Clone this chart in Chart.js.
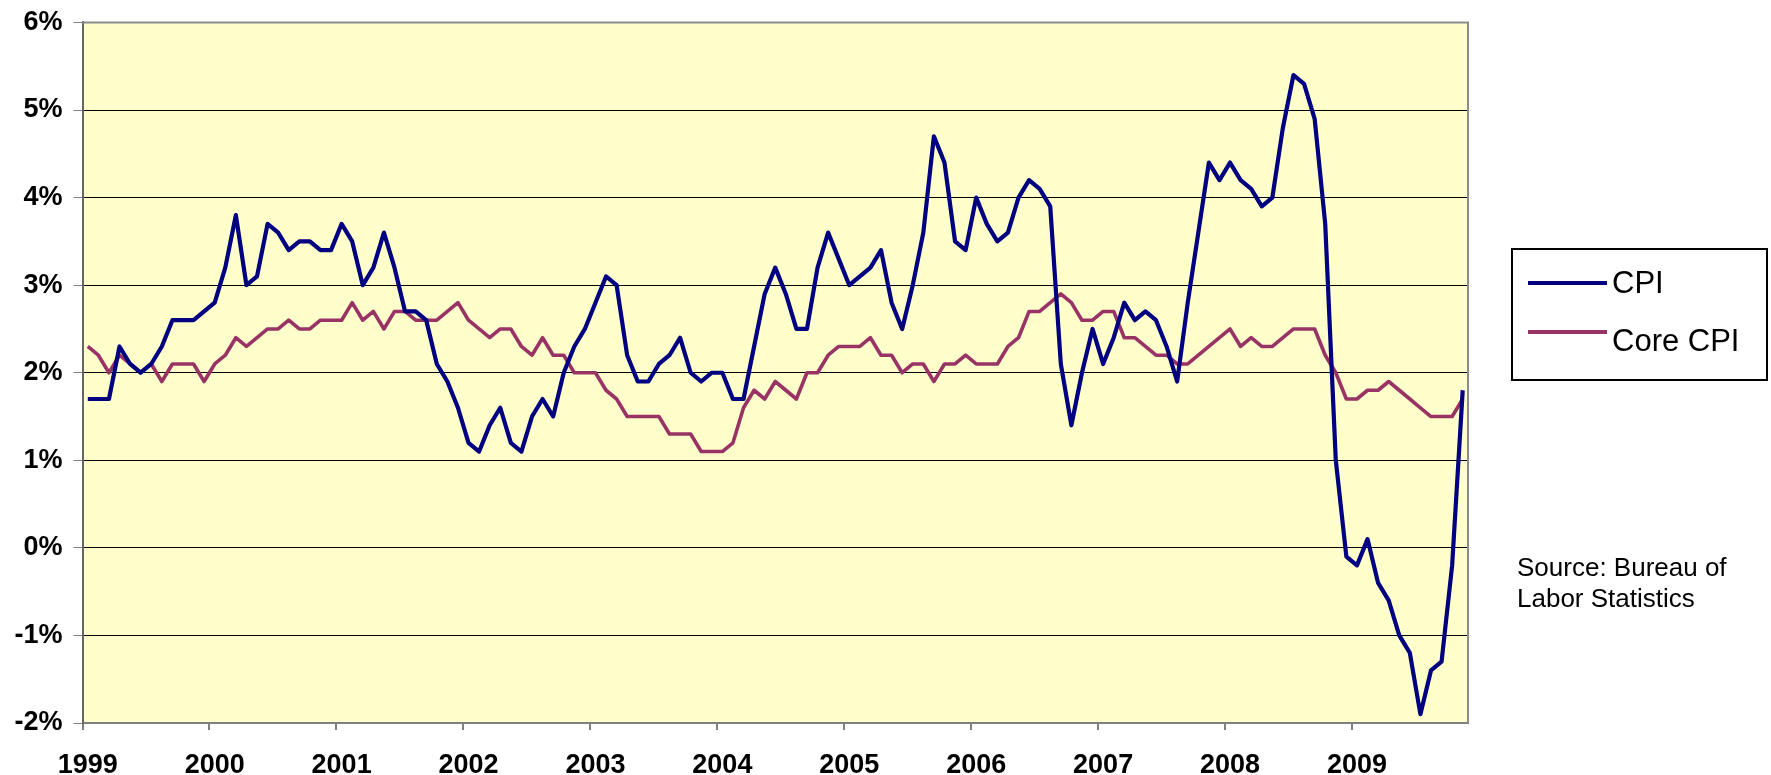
<!DOCTYPE html>
<html lang="en">

<head>
    <meta charset="UTF-8">
    <title>CPI vs Core CPI</title>
    <script src="https://cdn.jsdelivr.net/npm/chart.js"></script>
    <style>
        body { margin: 0; background: #fff; }
        #wrap { width: 1771px; height: 775px; }
    </style>
</head>

<body>
    <div id="wrap"><canvas id="cpiChart" width="1771" height="775"></canvas></div>
    <script>
        // year-over-year change, monthly, Jan 1999 - Nov 2009
        const years = ['1999', '2000', '2001', '2002', '2003', '2004', '2005', '2006', '2007', '2008', '2009'];
        const cpi = [
            1.7, 1.7, 1.7, 2.3, 2.1, 2.0, 2.1, 2.3, 2.6, 2.6, 2.6, 2.7,
            2.8, 3.2, 3.8, 3.0, 3.1, 3.7, 3.6, 3.4, 3.5, 3.5, 3.4, 3.4,
            3.7, 3.5, 3.0, 3.2, 3.6, 3.2, 2.7, 2.7, 2.6, 2.1, 1.9, 1.6,
            1.2, 1.1, 1.4, 1.6, 1.2, 1.1, 1.5, 1.7, 1.5, 2.0, 2.3, 2.5,
            2.8, 3.1, 3.0, 2.2, 1.9, 1.9, 2.1, 2.2, 2.4, 2.0, 1.9, 2.0,
            2.0, 1.7, 1.7, 2.3, 2.9, 3.2, 2.9, 2.5, 2.5, 3.2, 3.6, 3.3,
            3.0, 3.1, 3.2, 3.4, 2.8, 2.5, 3.0, 3.6, 4.7, 4.4, 3.5, 3.4,
            4.0, 3.7, 3.5, 3.6, 4.0, 4.2, 4.1, 3.9, 2.1, 1.4, 2.0, 2.5,
            2.1, 2.4, 2.8, 2.6, 2.7, 2.6, 2.3, 1.9, 2.8, 3.6, 4.4, 4.2,
            4.4, 4.2, 4.1, 3.9, 4.0, 4.8, 5.4, 5.3, 4.9, 3.7, 1.0, -0.1,
            -0.2, 0.1, -0.4, -0.6, -1.0, -1.2, -1.9, -1.4, -1.3, -0.2, 1.8
        ];
        const coreCpi = [
            2.3, 2.2, 2.0, 2.2, 2.1, 2.0, 2.1, 1.9, 2.1, 2.1, 2.1, 1.9,
            2.1, 2.2, 2.4, 2.3, 2.4, 2.5, 2.5, 2.6, 2.5, 2.5, 2.6, 2.6,
            2.6, 2.8, 2.6, 2.7, 2.5, 2.7, 2.7, 2.6, 2.6, 2.6, 2.7, 2.8,
            2.6, 2.5, 2.4, 2.5, 2.5, 2.3, 2.2, 2.4, 2.2, 2.2, 2.0, 2.0,
            2.0, 1.8, 1.7, 1.5, 1.5, 1.5, 1.5, 1.3, 1.3, 1.3, 1.1, 1.1,
            1.1, 1.2, 1.6, 1.8, 1.7, 1.9, 1.8, 1.7, 2.0, 2.0, 2.2, 2.3,
            2.3, 2.3, 2.4, 2.2, 2.2, 2.0, 2.1, 2.1, 1.9, 2.1, 2.1, 2.2,
            2.1, 2.1, 2.1, 2.3, 2.4, 2.7, 2.7, 2.8, 2.9, 2.8, 2.6, 2.6,
            2.7, 2.7, 2.4, 2.4, 2.3, 2.2, 2.2, 2.1, 2.1, 2.2, 2.3, 2.4,
            2.5, 2.3, 2.4, 2.3, 2.3, 2.4, 2.5, 2.5, 2.5, 2.2, 2.0, 1.7,
            1.7, 1.8, 1.8, 1.9, 1.8, 1.7, 1.6, 1.5, 1.5, 1.5, 1.7
        ];
        const sourceNote = ['Source: Bureau of', 'Labor Statistics'];

        // one category per month, label only each January
        const months = [];
        years.forEach(y => {
            for (let m = 1; m <= 12; m++) months.push(y + '-' + String(m).padStart(2, '0'));
        });
        months.length = cpi.length;

        Chart.defaults.font.family = '"Liberation Sans", Arial, sans-serif';
        Chart.defaults.color = '#000';

        const decor = {
            id: 'decor',
            beforeDraw(chart) {
                const { ctx, chartArea: a } = chart;
                ctx.save();
                ctx.fillStyle = '#FFFFCC';
                ctx.fillRect(a.left, a.top, a.right - a.left, a.bottom - a.top);
                ctx.restore();
            },
            afterDraw(chart) {
                const { ctx, chartArea: a } = chart;
                ctx.save();
                // plot frame top / right
                ctx.strokeStyle = '#8c8c8c';
                ctx.lineWidth = 2;
                ctx.beginPath();
                ctx.moveTo(a.left, a.top);
                ctx.lineTo(a.right, a.top);
                ctx.lineTo(a.right, a.bottom);
                ctx.stroke();

                // legend box
                ctx.strokeStyle = '#000';
                ctx.lineWidth = 2;
                ctx.strokeRect(1512, 249, 255, 131);
                const rows = [283, 332];
                const base = [293, 351];
                chart.data.datasets.forEach((ds, i) => {
                    ctx.strokeStyle = ds.borderColor;
                    ctx.lineWidth = 4;
                    ctx.beginPath();
                    ctx.moveTo(1528, rows[i]);
                    ctx.lineTo(1607, rows[i]);
                    ctx.stroke();
                    ctx.fillStyle = '#000';
                    ctx.font = '31px "Liberation Sans", Arial, sans-serif';
                    ctx.textBaseline = 'alphabetic';
                    ctx.fillText(ds.label, 1612, base[i]);
                });

                // source note
                ctx.font = '26px "Liberation Sans", Arial, sans-serif';
                ctx.fillText(sourceNote[0], 1517, 576);
                ctx.fillText(sourceNote[1], 1517, 607);
                ctx.restore();
            }
        };

        new Chart(document.getElementById('cpiChart'), {
            type: 'line',
            data: {
                labels: months,
                datasets: [{
                    label: 'CPI',
                    data: cpi,
                    borderColor: '#000080',
                    borderWidth: 4.2,
                    pointRadius: 0,
                    tension: 0,
                    borderJoinStyle: 'round',
                    fill: false
                }, {
                    label: 'Core CPI',
                    data: coreCpi,
                    borderColor: '#993366',
                    borderWidth: 3.6,
                    pointRadius: 0,
                    tension: 0,
                    borderJoinStyle: 'round',
                    fill: false
                }]
            },
            options: {
                responsive: false,
                animation: false,
                layout: { padding: { top: 0, right: 303, left: 0, bottom: 0 } },
                plugins: {
                    legend: { display: false },
                    tooltip: { enabled: false }
                },
                scales: {
                    x: {
                        offset: true,
                        afterFit: s => { s.height = 52; },
                        grid: {
                            offset: true,
                            drawOnChartArea: false,
                            tickLength: 7,
                            color: c => (c.index % 12 === 0 ? '#808080' : 'rgba(0,0,0,0)'),
                            lineWidth: 2
                        },
                        border: { color: '#808080', width: 2 },
                        ticks: {
                            autoSkip: false,
                            maxRotation: 0,
                            padding: 19,
                            font: { size: 27, weight: 'bold' },
                            callback: (v, i) => (i % 12 === 0 ? months[i].slice(0, 4) : '')
                        }
                    },
                    y: {
                        min: -2,
                        max: 6,
                        afterFit: s => { s.width = 82.5; },
                        grid: {
                            color: c => (c.tick && c.tick.value === 6 ? '#8c8c8c' : '#000'),
                            lineWidth: 1,
                            tickLength: 9,
                            tickColor: '#808080'
                        },
                        border: { color: '#666', width: 2 },
                        ticks: {
                            stepSize: 1,
                            padding: 11,
                            font: { size: 27, weight: 'bold', lineHeight: 0.85 },
                            callback: v => v + '%'
                        }
                    }
                }
            },
            plugins: [decor]
        });
    </script>
</body>

</html>
